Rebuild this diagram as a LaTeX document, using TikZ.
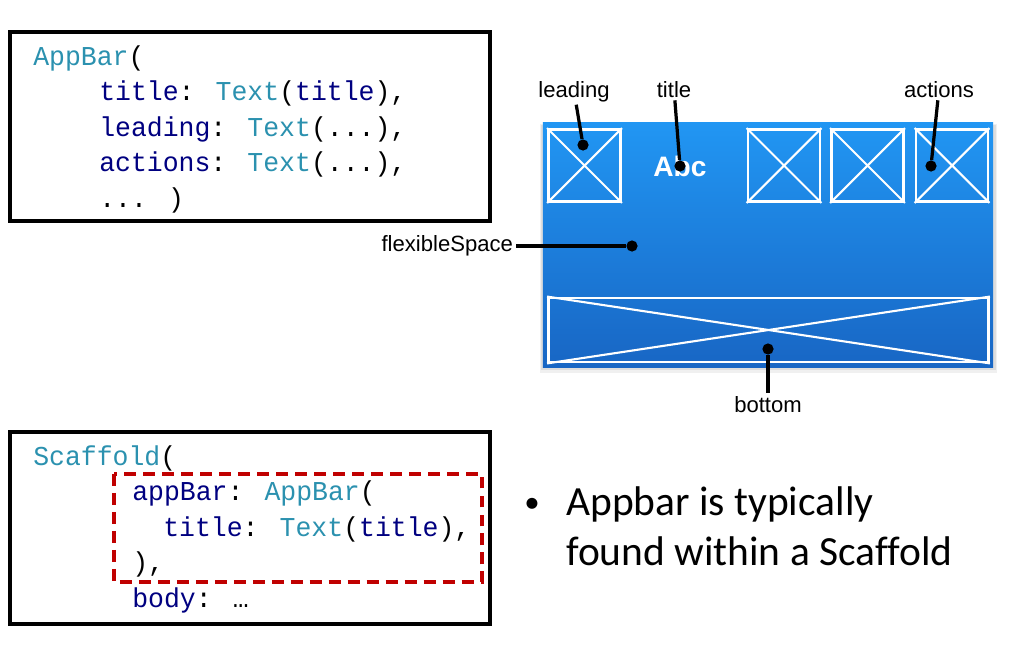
\documentclass[tikz,border=0pt]{standalone}
\usepackage{fontspec}
\setmainfont[Ligatures=NoCommon]{Carlito}
\newfontfamily\codefont[FakeStretch=0.97]{Liberation Mono}
\newfontfamily\labelfont{Liberation Sans}
\usetikzlibrary{positioning}
\definecolor{codeteal}{HTML}{2B91AF}
\definecolor{codenavy}{HTML}{000080}
\definecolor{dashred}{HTML}{C00000}
\definecolor{barTop}{HTML}{2196F3}
\definecolor{barBot}{HTML}{1866C4}
\newcommand{\tyname}[1]{\textcolor{codeteal}{#1}}
\newcommand{\fieldname}[1]{\textcolor{codenavy}{#1}}
\begin{document}
\begin{tikzpicture}[x=0.025cm, y=-0.025cm,
    codebox/.style={draw=black, line width=2.8pt},
    codeline/.style={anchor=base west, inner sep=0pt,
        font=\codefont\fontsize{19.4}{23}\selectfont},
    appbar/.style={inner sep=0pt, minimum width=11.25cm, minimum height=6.1cm,
        top color=barTop, bottom color=barBot},
    iconbox/.style={draw=white, line width=2pt, inner sep=0pt, minimum size=1.8cm},
    iconline/.style={white, line width=1.5pt},
    partlabel/.style={inner sep=2pt, font=\labelfont\fontsize{15.7}{18}\selectfont},
    dot/.style={circle, fill=black, minimum size=0.28cm, inner sep=0pt},
    pointer/.style={black, line width=2.3pt},
    note/.style={anchor=base west, inner sep=0pt, font=\fontsize{29.5}{35}\selectfont}]
\useasboundingbox (0,0) rectangle (1013,651);
% AppBar code
\draw[codebox] (10,32) rectangle (490,221);
\node[codeline] (ab1) at (33,65) {\tyname{AppBar}(};
\node[codeline] (ab2) at (99,100.5) {\fieldname{title}: \tyname{Text}(\fieldname{title}),};
\node[codeline] (ab3) at (99,136) {\fieldname{leading}: \tyname{Text}(...),};
\node[codeline] (ab4) at (99,171.5) {\fieldname{actions}: \tyname{Text}(...),};
\node[codeline] (ab5) at (99,207) {... )};
% Scaffold code
\draw[codebox] (10,432) rectangle (490,624);
\draw[dashred, line width=2.8pt, dash pattern=on 8.5pt off 5pt] (114,474) rectangle (482,582);
\node[codeline] (sc1) at (33,465) {\tyname{Scaffold}(};
\node[codeline] (sc2) at (132,500.5) {\fieldname{appBar}: \tyname{AppBar}(};
\node[codeline] (sc3) at (163,536) {\fieldname{title}: \tyname{Text}(\fieldname{title}),};
\node[codeline] (sc4) at (132,571.5) {),};
\node[codeline] (sc5) at (132,607) {\fieldname{body}: …};
% app bar picture
\fill[black, opacity=.06] (540,124) rectangle (997,373);
\fill[black, opacity=.08] (541,125) rectangle (996,370);
\node[appbar] (bar) at (768,245) {};
\foreach \n/\x in {lead/584.5, act1/784, act2/867.5, act3/952}{
    \node[iconbox] (\n) at (\x,165.5) {};
    \draw[iconline] (\n.north west) -- (\n.south east) (\n.north east) -- (\n.south west);
}
\node[iconbox, minimum width=11cm, minimum height=1.6cm] (btm) at (768.5,330) {};
\draw[iconline] (btm.north west) -- (btm.south east) (btm.north east) -- (btm.south west);
\node[text=white, inner sep=0pt, font=\labelfont\bfseries\fontsize{20}{24}\selectfont] (abc) at (680,166) {Abc};
% labels and pointers
\node[partlabel, anchor=base] (leadlbl) at (574,97) {leading};
\node[partlabel, anchor=base] (titlelbl) at (674,97) {title};
\node[partlabel, anchor=base] (actlbl) at (939,97) {actions};
\node[partlabel, anchor=east] (flexlbl) at (516,246) {flexibleSpace};
\node[partlabel, anchor=north] (btmlbl) at (768,393) {bottom};
\node[dot] (leaddot) at (583,145) {};
\node[dot] (titledot) at (680,166) {};
\node[dot] (actdot) at (931,166) {};
\node[dot] (flexdot) at (632,246) {};
\node[dot] (btmdot) at (768,349) {};
\draw[pointer] (leadlbl) -- (leaddot);
\draw[pointer] (titlelbl) -- (titledot);
\draw[pointer] (actlbl) -- (actdot);
\draw[pointer] (flexlbl) -- (flexdot);
\draw[pointer] (btmdot) -- (btmlbl);
% note
\node[note, anchor=base, font=\fontsize{22}{26}\selectfont] (bul) at (532,512) {•};
\node[note] (note1) at (566,515) {Appbar is typically};
\node[note] (note2) at (566,565) {found within a Scaffold};
\end{tikzpicture}
\end{document}
